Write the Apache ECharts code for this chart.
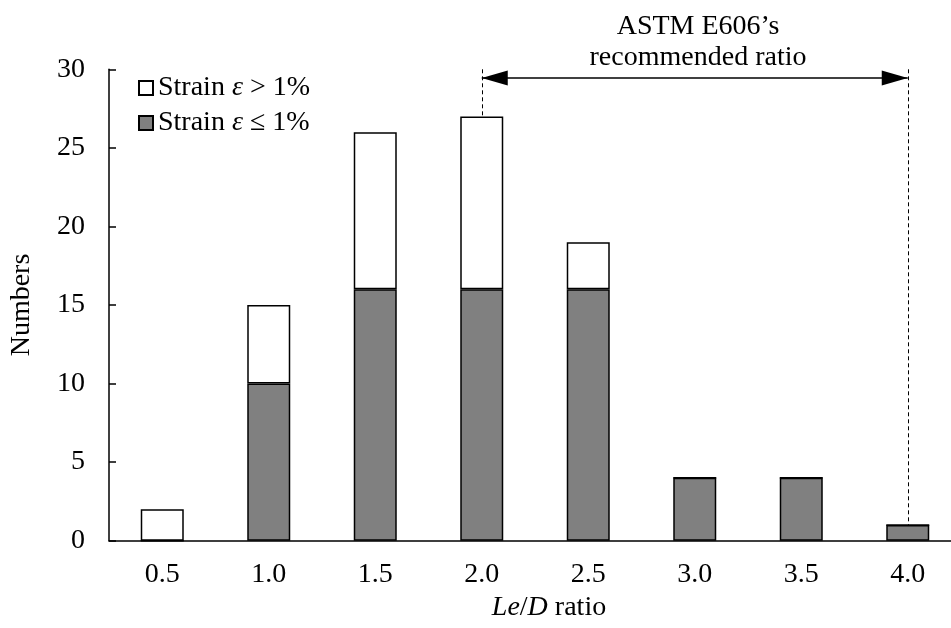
<!DOCTYPE html>
<html>
<head>
<meta charset="utf-8">
<script src="https://cdn.jsdelivr.net/npm/echarts@6/dist/echarts.min.js"></script>
<style>
  html, body { margin: 0; padding: 0; background: #fff; }
  #chart { width: 951px; height: 628px; }
</style>
</head>
<body>
<div id="chart"></div>
<script>
// Le/D ratio categories
var categories = ["0.5", "1.0", "1.5", "2.0", "2.5", "3.0", "3.5", "4.0"];
// strain <= 1% (grey, bottom of stack)
var lowStrain = [0, 10, 16, 16, 16, 4, 4, 1];
// strain > 1% (white, on top)
var highStrain = [2, 5, 10, 11, 3, 0, 0, 0];
var yTicks = [0, 5, 10, 15, 20, 25, 30];

var font = "Liberation Serif";
var fs = 28;
var chart = echarts.init(document.getElementById("chart"));

var rich = {
  n: { fontFamily: font, fontSize: fs, color: "#000" },
  i: { fontFamily: font, fontSize: fs, color: "#000", fontStyle: "italic" }
};

var option = {
  animation: false,
  textStyle: { fontFamily: font, color: "#000" },
  title: {
    text: "ASTM E606\u2019s\nrecommended ratio",
    left: 693,
    top: 6,
    textAlign: "center",
    textStyle: { fontFamily: font, fontSize: fs, fontWeight: "normal", color: "#000", lineHeight: 31, align: "center" }
  },
  legend: {
    orient: "vertical",
    left: 133,
    top: 69,
    itemWidth: 14,
    itemHeight: 14,
    itemGap: 7,
    icon: "rect",
    data: ["high", "low"],
    formatter: function (name) {
      return name == "high"
        ? "{n|Strain }{i|\u03b5}{n| > 1%}"
        : "{n|Strain }{i|\u03b5}{n| \u2264 1%}";
    },
    textStyle: { fontFamily: font, fontSize: fs, color: "#000", rich: rich }
  },
  grid: { left: 109, width: 852, top: 69.3, bottom: 87.3, containLabel: false, outerBoundsMode: "none" },
  xAxis: {
    type: "category",
    data: categories,
    axisTick: { show: false },
    axisLine: { lineStyle: { color: "#000", width: 1.5 } },
    axisLabel: { fontFamily: font, fontSize: fs, color: "#000", margin: 20 },
    name: "{i|Le}{n|/}{i|D}{n| ratio}",
    nameLocation: "middle",
    nameGap: 52,
    nameTextStyle: { rich: rich, padding: [0, 0, 0, 28] }
  },
  yAxis: {
    type: "value",
    min: yTicks[0],
    max: yTicks[yTicks.length - 1],
    interval: 5,
    splitLine: { show: false },
    axisLine: { show: true, lineStyle: { color: "#000", width: 1.5 } },
    axisTick: { show: true, inside: true, length: 7, lineStyle: { color: "#000", width: 1.5 } },
    axisLabel: { fontFamily: font, fontSize: fs, color: "#000", margin: 24 },
    name: "Numbers",
    nameLocation: "middle",
    nameGap: 73,
    nameTextStyle: { fontFamily: font, fontSize: fs, color: "#000" }
  },
  series: [
    {
      name: "low",
      type: "bar",
      stack: "n",
      barWidth: 43,
      data: lowStrain,
      itemStyle: { color: "#808080", borderColor: "#000", borderWidth: 1.5 },
      markLine: {
        silent: true,
        symbol: ["triangle", "triangle"],
        symbolSize: [15, 26],
        symbolOffset: [[0, 13], [0, 13]],
        label: { show: false },
        lineStyle: { color: "#000", width: 1.5, type: "solid" },
        data: [
          [{ coord: ["2.0", 29.45] }, { coord: ["4.0", 29.45] }]
        ]
      }
    },
    {
      name: "high",
      type: "bar",
      stack: "n",
      barWidth: 43,
      data: highStrain,
      itemStyle: { color: "#fff", borderColor: "#000", borderWidth: 1.5 },
      markLine: {
        silent: true,
        symbol: ["none", "none"],
        label: { show: false },
        lineStyle: { color: "#000", width: 1, type: [4, 3] },
        data: [
          [{ coord: ["2.0", 30] }, { coord: ["2.0", lowStrain[3] + highStrain[3]] }],
          [{ coord: ["4.0", 30] }, { coord: ["4.0", lowStrain[7] + highStrain[7]] }]
        ]
      }
    }
  ]
};

chart.setOption(option);
</script>
</body>
</html>
